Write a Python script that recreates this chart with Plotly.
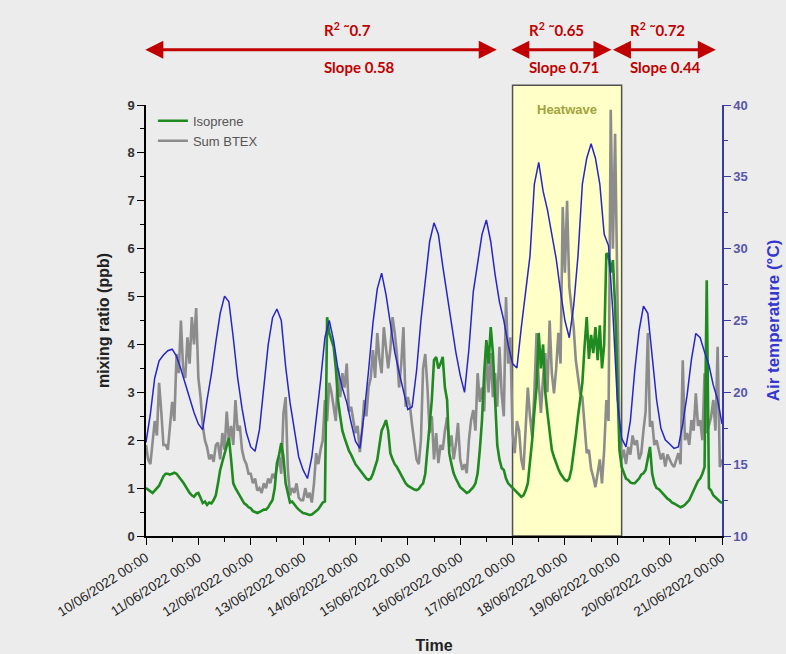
import pandas as pd
import plotly.graph_objects as go

# ---------------- data ----------------
start = "2022-06-10 00:00"

# Sum BTEX, ppb, hourly from 10/06 00:00
btex = (
    [1.9, 1.6, 1.5, 1.9, 2.4, 2.1, 3.2, 2.6, 1.9, 1.9, 1.8, 2.3, 2.8, 2.4, 3.8, 3.4, 4.5, 3.5, 3.3, 4.15, 3.6, 4.57, 4.0, 4.76]
    + [3.3, 2.9, 2.3, 2.0, 1.85, 1.6, 1.7, 1.55, 1.9, 1.95, 1.6, 2.15, 1.8, 2.6, 2.0, 2.3, 1.9, 2.84, 2.2, 2.3, 1.8, 1.6, 1.5, 1.3]
    + [1.3, 1.1, 1.2, 0.95, 1.0, 0.9, 1.1, 1.0, 1.2, 1.1, 1.3, 1.2, 1.4, 1.65, 1.3, 2.56, 2.9, 1.4, 0.85, 1.0, 0.9, 1.1, 0.8, 0.75]
    + [0.75, 1.0, 0.8, 0.9, 0.7, 1.1, 1.73, 1.5, 1.8, 2.0, 2.84, 2.4, 3.2, 3.0, 2.7, 2.4, 3.5, 2.9, 3.4, 3.1, 3.6, 2.6, 2.7, 2.4]
    + [2.15, 2.3, 1.75, 2.2, 2.84, 2.5, 3.1, 3.3, 3.88, 3.3, 4.24, 3.7, 3.4, 4.36, 3.88, 3.5, 3.9, 4.57, 4.24, 3.8, 3.1, 3.6, 4.36, 2.7]
    + [2.9, 2.7, 2.3, 1.94, 1.6, 1.5, 2.0, 3.5, 3.8, 3.1, 2.15, 2.5, 1.6, 2.15, 1.52, 1.9, 1.8, 2.2, 2.48, 1.86, 2.1, 1.6, 1.9, 2.36]
    + [1.6, 1.38, 1.5, 1.31, 2.0, 2.42, 2.63, 2.2, 3.4, 2.8, 3.1, 2.6, 3.95, 3.0, 3.82, 2.9, 3.4, 2.7, 3.95, 2.98, 2.5, 4.99, 3.6, 4.15]
    + [2.15, 1.73, 2.4, 2.2, 1.6, 1.38, 2.3, 3.1, 2.5, 2.07, 3.0, 4.24, 3.2, 2.57, 3.3, 3.82, 3.0, 4.5, 3.4, 2.98, 3.5, 4.24, 3.6, 6.87]
    + [5.5, 7.0, 5.2, 4.8, 4.36, 3.67, 3.3, 2.98, 2.9, 2.3, 1.73, 1.8, 1.4, 1.23, 1.02, 1.31, 1.6, 1.1, 1.8, 2.84, 2.4, 8.9, 6.0, 8.4]
    + [5.6, 2.15, 1.6, 1.8, 1.5, 1.86, 1.7, 2.1, 1.9, 2.0, 1.6, 1.73, 2.2, 2.6, 4.24, 2.28, 2.4, 1.9, 2.0, 1.8, 1.6, 1.73, 1.45, 1.7]
    + [1.6, 1.5, 1.44, 1.6, 1.73, 1.5, 3.67, 2.0, 2.15, 1.9, 2.42, 2.2, 2.98, 2.3, 2.42, 2.0, 3.4, 2.15, 2.3, 2.48, 2.84, 2.2, 3.95, 1.44]
    + [1.6]
)

# Isoprene, ppb, hourly from 10/06 00:00
isoprene = (
    [1.0, 0.96, 0.93, 0.9, 0.95, 1.0, 1.05, 1.15, 1.25, 1.3, 1.3, 1.28, 1.3, 1.32, 1.3, 1.25, 1.18, 1.12, 1.05, 0.96, 0.9, 0.85, 0.82, 0.88]
    + [0.9, 0.8, 0.69, 0.72, 0.65, 0.7, 0.68, 0.75, 0.85, 1.1, 1.38, 1.55, 1.7, 1.86, 2.05, 1.6, 1.1, 1.0, 0.92, 0.82, 0.75, 0.68, 0.65, 0.6]
    + [0.58, 0.52, 0.5, 0.48, 0.5, 0.52, 0.55, 0.55, 0.6, 0.68, 0.75, 1.0, 1.52, 1.7, 1.94, 1.65, 1.1, 0.9, 0.7, 0.72, 0.65, 0.6, 0.55, 0.52]
    + [0.48, 0.47, 0.45, 0.44, 0.45, 0.48, 0.52, 0.56, 0.62, 0.7, 0.72, 4.57, 4.24, 4.1, 3.95, 3.5, 2.84, 2.5, 2.2, 2.05, 1.9, 1.78, 1.7, 1.6]
    + [1.5, 1.44, 1.38, 1.3, 1.25, 1.2, 1.17, 1.2, 1.3, 1.45, 1.59, 1.9, 2.2, 2.3, 2.42, 2.2, 1.73, 1.6, 1.5, 1.44, 1.35, 1.25, 1.17, 1.1]
    + [1.05, 1.02, 1.0, 0.97, 0.96, 0.98, 1.05, 1.1, 1.3, 1.8, 2.3, 2.84, 3.67, 3.74, 3.5, 3.6, 3.74, 3.1, 2.84, 1.73, 1.5, 1.31, 1.2, 1.1]
    + [1.02, 0.98, 0.94, 0.9, 0.92, 0.96, 1.02, 1.1, 1.31, 1.8, 2.42, 3.4, 4.09, 3.6, 4.36, 3.82, 2.98, 1.9, 1.6, 1.42, 1.38, 1.2, 1.1, 1.05]
    + [1.02, 0.95, 0.9, 0.85, 0.82, 0.85, 0.95, 1.1, 1.5, 2.0, 2.6, 3.1, 4.24, 3.5, 4.0, 3.0, 2.57, 2.2, 1.8, 1.65, 1.5, 1.4, 1.3, 1.22]
    + [1.17, 1.15, 1.2, 1.4, 1.7, 2.1, 2.5, 2.8, 3.2, 3.95, 4.57, 3.7, 4.2, 3.82, 4.36, 3.67, 4.4, 3.5, 4.0, 5.9, 5.87, 5.5, 5.76, 4.8]
    + [3.5, 1.8, 1.44, 1.3, 1.2, 1.17, 1.12, 1.1, 1.1, 1.15, 1.2, 1.28, 1.31, 1.38, 1.6, 1.86, 1.3, 1.1, 1.0, 0.98, 0.93, 0.88, 0.82, 0.78]
    + [0.75, 0.7, 0.68, 0.65, 0.62, 0.6, 0.62, 0.65, 0.7, 0.75, 0.85, 0.95, 1.05, 1.15, 1.2, 1.3, 1.44, 5.34, 1.0, 0.95, 0.85, 0.8, 0.76, 0.72]
    + [0.69]
)

# Air temperature, degC, every 2 hours from 10/06 00:00
air_temp = (
    [16.5, 18.5, 21.0, 22.2, 22.6, 22.9, 23.0, 22.5, 21.6, 20.6, 19.7, 18.6]
    + [17.8, 17.4, 19.5, 21.3, 23.5, 25.5, 26.7, 26.3, 23.8, 21.0, 18.9, 17.2]
    + [16.2, 15.9, 17.4, 20.5, 23.3, 25.2, 25.8, 25.0, 21.8, 19.3, 17.3, 15.5]
    + [14.6, 14.0, 15.5, 18.0, 20.8, 23.8, 25.0, 23.6, 21.6, 20.3, 19.3, 17.9]
    + [16.6, 16.1, 18.5, 21.5, 24.8, 27.2, 28.3, 26.8, 24.8, 22.8, 21.4, 20.0]
    + [18.8, 19.0, 21.5, 25.0, 28.0, 30.5, 31.8, 31.0, 28.8, 26.8, 24.5, 22.8]
    + [21.2, 20.0, 23.0, 27.0, 29.0, 31.0, 32.0, 30.5, 28.2, 26.3, 25.0, 23.3]
    + [22.0, 21.7, 24.5, 27.0, 29.5, 34.5, 36.0, 34.0, 32.7, 31.0, 29.3, 27.0]
    + [25.0, 23.8, 26.0, 29.5, 34.5, 36.3, 37.3, 36.3, 34.5, 31.0, 30.2, 25.5]
    + [19.5, 16.8, 16.2, 18.0, 21.5, 24.3, 26.0, 25.5, 22.5, 19.5, 17.5, 16.7]
    + [16.4, 16.1, 16.2, 17.8, 19.8, 22.3, 24.1, 23.8, 22.8, 21.9, 20.5, 19.5]
    + [17.8]
)

t_hourly = pd.date_range(start, periods=len(btex), freq="h")
t_iso = pd.date_range(start, periods=len(isoprene), freq="h")
t_2h = pd.date_range(start, periods=len(air_temp), freq="2h")

x_range = ["2022-06-10 00:00", "2022-06-21 00:00"]
heatwave = ["2022-06-17 00:00", "2022-06-19 02:00"]

# regression periods (arrows) and their labels
periods = [
    ("2022-06-09 23:00", "2022-06-16 16:45", "2022-06-13 08:40", "R<sup>2</sup> ˜0.7", "Slope 0.58"),
    ("2022-06-16 22:45", "2022-06-18 21:20", "2022-06-17 06:30", "R<sup>2</sup> ˜0.65", "Slope 0.71"),
    ("2022-06-18 21:20", "2022-06-20 21:10", "2022-06-19 04:50", "R<sup>2</sup> ˜0.72", "Slope 0.44"),
]

GREEN = "#1f8a1f"
GRAY = "#8c8c8c"
BLUE = "#2626c8"
AXBLUE = "#3a3aa6"
RED = "#c00000"
BG = "#ececec"

fig = go.Figure()
fig.add_trace(go.Scatter(x=t_hourly, y=btex, name="Sum BTEX", mode="lines",
                         line=dict(color=GRAY, width=2.6), legendrank=2))
fig.add_trace(go.Scatter(x=t_iso, y=isoprene, name="Isoprene", mode="lines",
                         line=dict(color=GREEN, width=2.6), legendrank=1))
fig.add_trace(go.Scatter(x=t_2h, y=air_temp, name="Air temperature", mode="lines",
                         line=dict(color=BLUE, width=1.5), yaxis="y2", showlegend=False))

fig.add_shape(type="rect", xref="x", yref="paper", x0=heatwave[0], x1=heatwave[1],
              y0=0, y1=1.046, fillcolor="#ffffc8", line=dict(color="#505050", width=1.5),
              layer="below")

annotations = [
    dict(x="2022-06-18 01:00", y=1.012, xref="x", yref="paper", text="<b>Heatwave</b>",
         showarrow=False, font=dict(family="Liberation Sans", size=13, color="#a3a33c"))
]
for a0, a1, tx, r2, sl in periods:
    annotations.append(dict(x=a1, y=1.128, xref="x", yref="paper", ax=a0, ay=0,
                            axref="x", ayref="pixel", text="", showarrow=True,
                            arrowside="end+start", arrowhead=2, arrowsize=1.2,
                            arrowwidth=3, arrowcolor=RED, standoff=0, startstandoff=0))
    annotations.append(dict(x=tx, y=1.175, xref="x", yref="paper", xanchor="left",
                            yanchor="middle", text=r2, showarrow=False,
                            font=dict(family="Lato", size=15, color=RED, weight="bold")))
    annotations.append(dict(x=tx, y=1.088, xref="x", yref="paper", xanchor="left",
                            yanchor="middle", text=sl, showarrow=False,
                            font=dict(family="Lato", size=15, color=RED, weight="bold")))

fig.update_layout(
    width=786, height=654,
    margin=dict(l=146, r=64, t=105, b=118, autoexpand=False),
    paper_bgcolor=BG, plot_bgcolor=BG,
    font=dict(family="Liberation Sans", color="#333333"),
    showlegend=True,
    legend=dict(x=0.012, y=0.998, xanchor="left", yanchor="top",
                bgcolor="rgba(0,0,0,0)", font=dict(size=13, color="#555555"),
                tracegroupgap=0, itemwidth=30),
    annotations=annotations,
    xaxis=dict(
        type="date", range=x_range, showgrid=False, zeroline=False, automargin=False,
        showline=True, linecolor="black", linewidth=1.5,
        ticks="outside", ticklen=7, tickwidth=1.3, tickcolor="black",
        tick0="2022-06-10", dtick=86400000, tickformat="%d/%m/%Y %H:%M",
        tickangle=-33, tickfont=dict(size=13.5, color="#222222"),
        minor=dict(dtick=43200000, ticks="outside", ticklen=4, tickcolor="black", tickwidth=1.2),
        title=dict(text="<b>Time</b>", font=dict(size=16, color="#222222"), standoff=22),
    ),
    yaxis=dict(
        range=[0, 9], dtick=1, showgrid=False, zeroline=False, automargin=False,
        showline=True, linecolor="black", linewidth=1.5,
        ticks="outside", ticklen=7, tickwidth=1.3, tickcolor="black",
        tickfont=dict(size=13, color="#333333", weight="bold"),
        minor=dict(dtick=0.5, ticks="outside", ticklen=4, tickcolor="black", tickwidth=1.2),
        title=dict(text="<b>mixing ratio (ppb)</b>", font=dict(size=16, color="#222222"), standoff=14),
    ),
    yaxis2=dict(
        overlaying="y", side="right", anchor="x", automargin=False,
        range=[10, 40], dtick=5, showgrid=False, zeroline=False,
        showline=True, linecolor=AXBLUE, linewidth=1.5,
        ticks="outside", ticklen=7, tickwidth=1.3, tickcolor=AXBLUE,
        tickfont=dict(size=13, color="#5656aa", weight="bold"),
        minor=dict(dtick=2.5, ticks="outside", ticklen=4, tickcolor=AXBLUE, tickwidth=1.2),
        title=dict(text="<b>Air temperature (°C)</b>", font=dict(size=17, color="#3535d0"), standoff=20),
    ),
)

page_fix = ("document.body.style.margin='0';"
            "document.body.style.background='" + BG + "';")
fig.write_html("out.html", post_script=page_fix, config={"displayModeBar": False})
